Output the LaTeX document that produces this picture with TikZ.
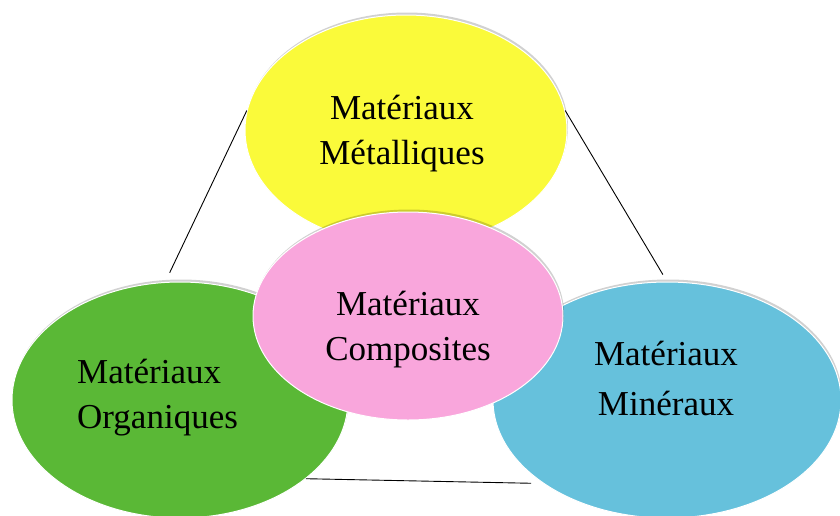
\documentclass[tikz,border=0pt]{standalone}
\usepackage{fontspec}
\setmainfont{Liberation Serif}
\usetikzlibrary{shapes.geometric,shadows}
\definecolor{jaune}{RGB}{250,250,58}
\definecolor{rose}{RGB}{249,166,220}
\definecolor{vert}{RGB}{90,184,54}
\definecolor{bleu}{RGB}{102,193,220}
\tikzset{
  blob/.style={ellipse, draw=white, line width=1pt, inner sep=0pt,
    drop shadow={shadow xshift=1pt, shadow yshift=2.5pt, opacity=0.18, fill=black}},
  lbl/.style={font=\fontsize{35}{45}\selectfont, align=center, inner sep=0pt},
  side/.style={line width=0.9pt},
}
\begin{document}
\begin{tikzpicture}[x=1pt,y=-1pt]
        \useasboundingbox (0,0) rectangle (840,515);
        %% Sides of the triangle
        \node[blob, fill=jaune, minimum width=322pt, minimum height=230pt] (met) at (406,130) {};
        \node[blob, fill=vert, minimum width=336pt, minimum height=236pt] (org) at (180,400) {};
        \node[blob, fill=bleu, minimum width=348pt, minimum height=236pt] (min) at (667,400) {};
        \draw[side] (met.173) -- ([yshift=9pt]org.95);
        \draw[side] (met.7) -- ([yshift=7pt]min.92);
        \draw[side, shorten >=12pt] (org.-32) -- (min.-146);
        %% Centre
        \node[blob, fill=rose, minimum width=310pt, minimum height=208pt] (comp) at (408,316) {};
        %% Labels
        \node[lbl] at (402,134) {Matériaux\\Métalliques};
        \node[lbl] at (408,330) {Matériaux\\Composites};
        \node[lbl, align=left, anchor=west] at (77,398) {Matériaux\\Organiques};
        \node[lbl] at (666,378) {Matériaux\\[5pt]Minéraux};
\end{tikzpicture}
\end{document}
